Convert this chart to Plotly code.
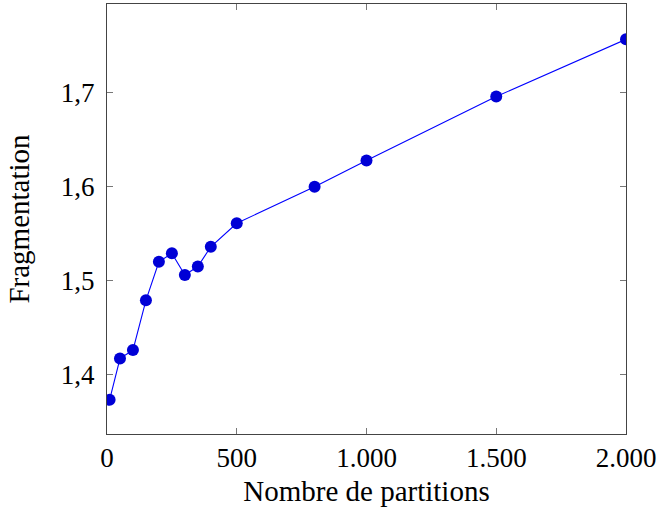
import plotly.graph_objects as go

partitions = [10, 50, 100, 150, 200, 250, 300, 350, 400, 500, 800, 1000, 1500, 2000]
fragmentation = [1.373, 1.417, 1.426, 1.479, 1.520, 1.529, 1.506, 1.515, 1.536,
                 1.561, 1.600, 1.628, 1.696, 1.757]

font = "Liberation Serif"

fig = go.Figure(
    go.Scatter(
        x=partitions,
        y=fragmentation,
        mode="lines+markers",
        line=dict(color="#0000ff", width=1.1),
        marker=dict(color="#0000d6", size=12),
    )
)

axis_style = dict(
    showgrid=False,
    zeroline=False,
    showline=True,
    linecolor="#444",
    linewidth=1,
    mirror="ticks",
    ticks="inside",
    ticklen=6,
    tickcolor="#777",
    tickfont=dict(family=font, size=27, color="black"),
)

fig.update_xaxes(
    range=[0, 2000],
    tickvals=[0, 500, 1000, 1500, 2000],
    tickformat=",d",
    title=dict(text="Nombre de partitions", font=dict(family=font, size=29, color="black"), standoff=8),
    **axis_style,
)
fig.update_yaxes(
    range=[1.3366, 1.7946],
    tickvals=[1.4, 1.5, 1.6, 1.7],
    tickformat=".1f",
    ticklabelstandoff=6,
    title=dict(text="Fragmentation", font=dict(family=font, size=29, color="black"), standoff=22),
    **axis_style,
)

fig.update_layout(
    width=659,
    height=514,
    separators=",.",
    showlegend=False,
    plot_bgcolor="white",
    paper_bgcolor="white",
    margin=dict(l=107, r=33, t=4, b=80, autoexpand=False),
)

# the page body has a default 8px margin; drop it so the figure sits at 0,0
fig.write_html(
    "out.html",
    config={"displayModeBar": False},
    post_script="document.body.style.margin = '0';",
)
